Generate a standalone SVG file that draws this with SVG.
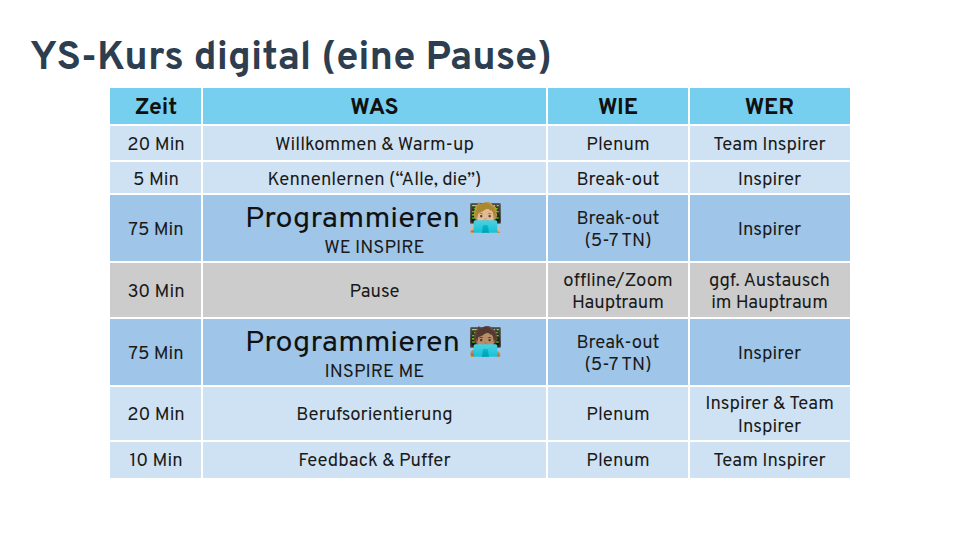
<svg xmlns="http://www.w3.org/2000/svg" width="960" height="540" viewBox="0 0 960 540">
<style>
.t{font-family:"Overpass","Noto Sans","Liberation Sans",sans-serif;font-size:18.5px;fill:#1a1a1a;text-anchor:middle;dominant-baseline:central}
.h{font-family:"Overpass","Noto Sans","Liberation Sans",sans-serif;font-size:23px;font-weight:bold;fill:#111;text-anchor:middle;dominant-baseline:central}
.big{font-family:"Overpass","Noto Sans","Liberation Sans",sans-serif;font-size:29px;fill:#111;dominant-baseline:central}
.em{font-family:"Noto Color Emoji","Noto Sans",sans-serif;font-size:28px;dominant-baseline:central}
.g{stroke:#ffffff;stroke-width:2}
</style>
<rect width="960" height="540" fill="#ffffff"/>
<text x="30" y="59" font-family="Overpass,'Noto Sans','Liberation Sans',sans-serif" font-size="40" font-weight="bold" fill="#2c3e50" dominant-baseline="central" textLength="522" lengthAdjust="spacingAndGlyphs">YS-Kurs digital (eine Pause)</text>
<g id="table">
<rect x="110" y="88" width="740" height="37" fill="#76cfee"/>
<rect x="110" y="125" width="740" height="69" fill="#cfe2f3"/>
<rect x="110" y="194" width="740" height="68" fill="#9fc5e8"/>
<rect x="110" y="262" width="740" height="56" fill="#cccccc"/>
<rect x="110" y="318" width="740" height="68" fill="#9fc5e8"/>
<rect x="110" y="386" width="740" height="92" fill="#cfe2f3"/>
<g class="g">
<line x1="110" y1="125" x2="850" y2="125"/>
<line x1="110" y1="161" x2="850" y2="161"/>
<line x1="110" y1="194" x2="850" y2="194"/>
<line x1="110" y1="262" x2="850" y2="262"/>
<line x1="110" y1="318" x2="850" y2="318"/>
<line x1="110" y1="386" x2="850" y2="386"/>
<line x1="110" y1="441" x2="850" y2="441"/>
<line x1="202" y1="88" x2="202" y2="478"/>
<line x1="547" y1="88" x2="547" y2="478"/>
<line x1="689" y1="88" x2="689" y2="478"/>
</g>
</g>
<g id="header">
<text class="h" x="156" y="108.5">Zeit</text>
<text class="h" x="374.5" y="108.5">WAS</text>
<text class="h" x="618" y="108.5">WIE</text>
<text class="h" x="769.5" y="108.5">WER</text>
</g>
<g id="row1">
<text class="t" x="156" y="145.5">20 Min</text>
<text class="t" x="374.5" y="145.5">Willkommen &amp; Warm-up</text>
<text class="t" x="618" y="145.5">Plenum</text>
<text class="t" x="769.5" y="145.5">Team Inspirer</text>
</g>
<g id="row2">
<text class="t" x="156" y="180">5 Min</text>
<text class="t" x="374.5" y="180">Kennenlernen (“Alle, die”)</text>
<text class="t" x="618" y="180">Break-out</text>
<text class="t" x="769.5" y="180">Inspirer</text>
</g>
<g id="row3">
<text class="t" x="156" y="230">75 Min</text>
<text class="big" x="245" y="219" textLength="215" lengthAdjust="spacingAndGlyphs">Programmieren</text>
<text class="em" x="468" y="217">🧑🏼‍💻</text>
<text class="t" x="374.5" y="248">WE INSPIRE</text>
<text class="t" x="618" y="219">Break-out</text>
<text class="t" x="618" y="241">(5-7 TN)</text>
<text class="t" x="769.5" y="230">Inspirer</text>
</g>
<g id="row4">
<text class="t" x="156" y="292">30 Min</text>
<text class="t" x="374.5" y="292">Pause</text>
<text class="t" x="618" y="281">offline/Zoom</text>
<text class="t" x="618" y="303">Hauptraum</text>
<text class="t" x="769.5" y="281">ggf. Austausch</text>
<text class="t" x="769.5" y="303">im Hauptraum</text>
</g>
<g id="row5">
<text class="t" x="156" y="354">75 Min</text>
<text class="big" x="245" y="343" textLength="215" lengthAdjust="spacingAndGlyphs">Programmieren</text>
<text class="em" x="468" y="341">🧑🏽‍💻</text>
<text class="t" x="374.5" y="372">INSPIRE ME</text>
<text class="t" x="618" y="343">Break-out</text>
<text class="t" x="618" y="365">(5-7 TN)</text>
<text class="t" x="769.5" y="354">Inspirer</text>
</g>
<g id="row6">
<text class="t" x="156" y="415.5">20 Min</text>
<text class="t" x="374.5" y="415.5">Berufsorientierung</text>
<text class="t" x="618" y="415.5">Plenum</text>
<text class="t" x="769.5" y="404">Inspirer &amp; Team</text>
<text class="t" x="769.5" y="427">Inspirer</text>
</g>
<g id="row7">
<text class="t" x="156" y="461.5">10 Min</text>
<text class="t" x="374.5" y="461.5">Feedback &amp; Puffer</text>
<text class="t" x="618" y="461.5">Plenum</text>
<text class="t" x="769.5" y="461.5">Team Inspirer</text>
</g>
</svg>
